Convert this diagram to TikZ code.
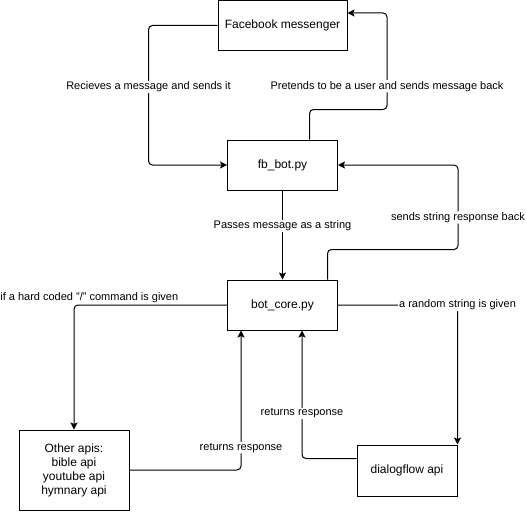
\documentclass[tikz,border=0pt]{standalone}
\usepackage{fontspec}
\setmainfont{Liberation Sans}
\usetikzlibrary{arrows.meta}

\begin{document}
\begin{tikzpicture}[x=1pt,y=-1pt,
  box/.style={draw,line width=1pt,minimum width=110pt,minimum height=50pt,
    align=center,font=\fontsize{12}{14}\selectfont},
  arr/.style={line width=1pt,rounded corners=4pt,
    -{Stealth[length=7pt,width=7pt,inset=1.5pt]}},
  lbl/.style={fill=white,inner sep=1pt,font=\fontsize{11}{13}\selectfont}]
  \useasboundingbox (0,0) rectangle (526,511);
  \node[box,minimum width=129pt] (fb) at (282.5,25.5) {Facebook messenger};
  \node[box] (fbbot) at (282.5,165) {fb\_bot.py};
  \node[box] (core) at (282.5,305) {bot\_core.py};
  \node[box,minimum height=80pt] (apis) at (74,470) {Other apis:\\bible api\\youtube api\\hymnary api};
  \node[box,minimum width=100pt,minimum height=51pt] (dialog) at (407,470.5) {dialogflow api};
  \draw[arr] (fb.west) -- ++(-69,0)
    |- node[lbl,pos=0.22] {Recieves a message and sends it} (fbbot.west);
  \draw[arr] ([xshift=27pt]fbbot.north) -- ++(0,-30)
    -| node[lbl,pos=0.62] {Pretends to be a user and sends message back} (387,13)
    -- ([yshift=12.5pt]fb.east);
  \draw[arr] (fbbot.south)
    -- node[lbl,pos=0.4] {Passes message as a string} (core.north);
  \draw[arr] ([xshift=45pt]core.north) -- ++(0,-30)
    -| node[lbl,pos=0.69] {sends string response back} ([xshift=120pt]fbbot.east)
    -- (fbbot.east);
  \draw[arr] (core.west)
    -| node[lbl,pos=0.45,above,fill=none,yshift=1pt] {if a hard coded \symbol{34}/\symbol{34} command is given} (apis.north);
  \draw[arr] (core.east)
    -| node[lbl,pos=0.5] {a random string is given} (dialog.north east);
  \draw[arr] (apis.east)
    -| node[lbl,pos=0.58] {returns response} ([xshift=14pt]core.south west);
  \draw[arr] ([yshift=12pt]dialog.west)
    -| node[lbl,pos=0.676] {returns response} ([xshift=75pt]core.south west);
\end{tikzpicture}
\end{document}
